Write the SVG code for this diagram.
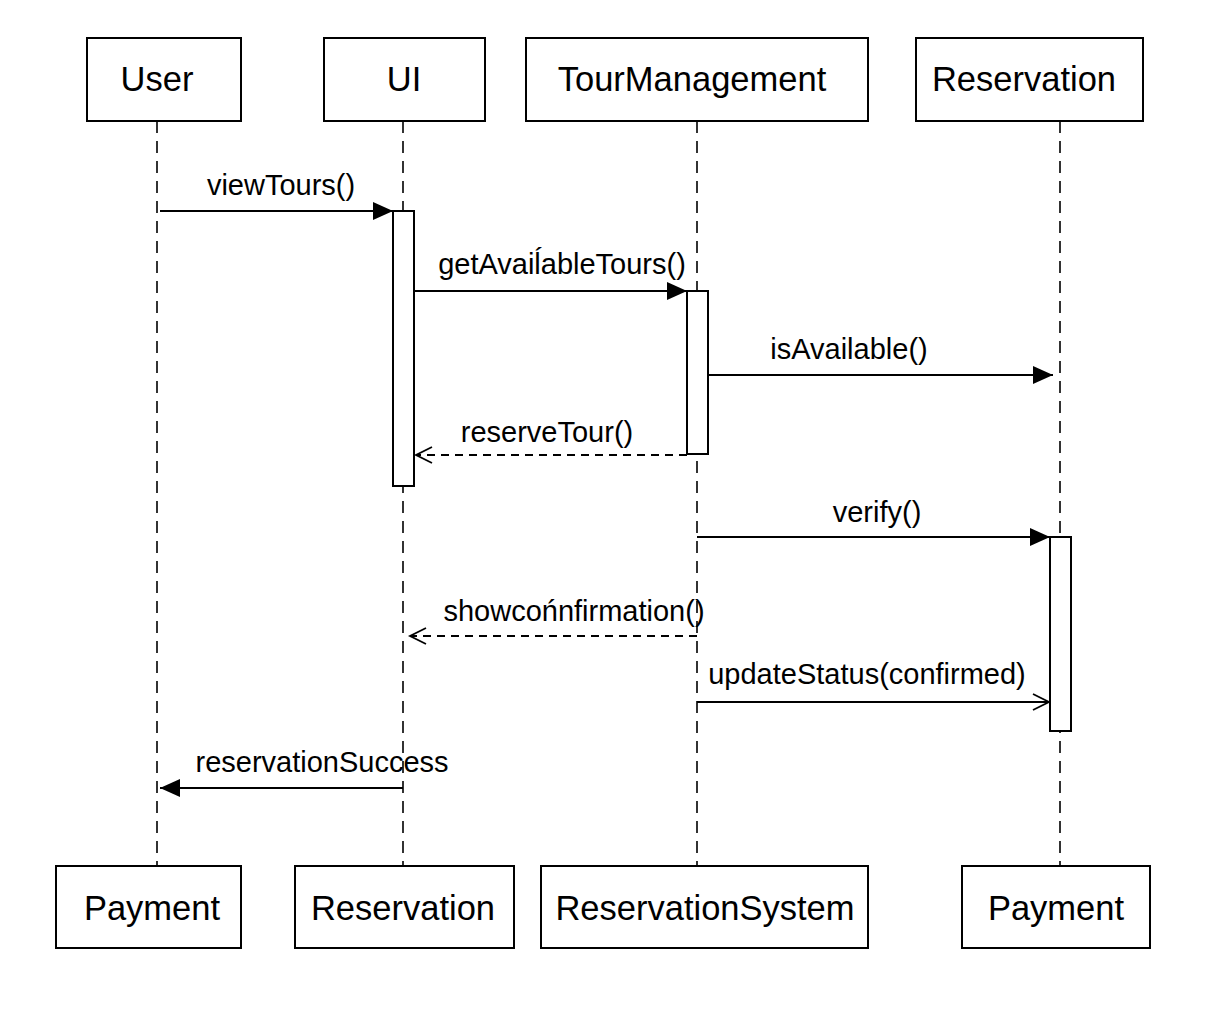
<svg xmlns="http://www.w3.org/2000/svg" width="1229" height="1024" viewBox="0 0 1229 1024">
<defs>
<marker id="filled" markerWidth="22" markerHeight="20" refX="20" refY="9" orient="auto" markerUnits="userSpaceOnUse">
<path d="M0,0 L20,9 L0,18 Z" fill="#000"/>
</marker>
<marker id="open" markerWidth="22" markerHeight="20" refX="18" refY="9" orient="auto" markerUnits="userSpaceOnUse">
<path d="M2,1 L18,9 L2,17" fill="none" stroke="#000" stroke-width="1.8"/>
</marker>
</defs>
<style>
.box{fill:#fff;stroke:#000;stroke-width:2}
.act{fill:#fff;stroke:#000;stroke-width:2}
.life{stroke:#000;stroke-width:1.6;stroke-dasharray:12 8;fill:none}
.lbl{font-family:"Liberation Sans",Arial,sans-serif;font-size:34.5px;fill:#000;text-anchor:middle}
.msg{font-family:"Liberation Sans",Arial,sans-serif;font-size:29px;fill:#000;text-anchor:middle}
.sync{stroke:#000;stroke-width:2;fill:none;marker-end:url(#filled)}
.ret{stroke:#000;stroke-width:1.8;fill:none;stroke-dasharray:8 6;marker-end:url(#open)}
.asyn{stroke:#000;stroke-width:2;fill:none;marker-end:url(#open)}
</style>
<rect width="1229" height="1024" fill="#fff"/>
<g id="lifelines">
<line class="life" x1="157" y1="121" x2="157" y2="866"/>
<line class="life" x1="403" y1="121" x2="403" y2="866"/>
<line class="life" x1="697" y1="121" x2="697" y2="866"/>
<line class="life" x1="1060" y1="121" x2="1060" y2="866"/>
</g>
<g id="node-user"><rect class="box" x="87" y="38" width="154" height="83"/><text class="lbl" x="157" y="91">User</text></g>
<g id="node-ui"><rect class="box" x="324" y="38" width="161" height="83"/><text class="lbl" x="404" y="91">UI</text></g>
<g id="node-tourmanagement"><rect class="box" x="526" y="38" width="342" height="83"/><text class="lbl" x="692" y="91">TourManagement</text></g>
<g id="node-reservation-top"><rect class="box" x="916" y="38" width="227" height="83"/><text class="lbl" x="1024" y="91">Reservation</text></g>
<g id="node-payment-left"><rect class="box" x="56" y="866" width="185" height="82"/><text class="lbl" x="152" y="920">Payment</text></g>
<g id="node-reservation-bottom"><rect class="box" x="295" y="866" width="219" height="82"/><text class="lbl" x="403" y="920">Reservation</text></g>
<g id="node-reservationsystem"><rect class="box" x="541" y="866" width="327" height="82"/><text class="lbl" x="705" y="920">ReservationSystem</text></g>
<g id="node-payment-right"><rect class="box" x="962" y="866" width="188" height="82"/><text class="lbl" x="1056" y="920">Payment</text></g>
<g id="activations">
<rect class="act" x="393" y="211" width="21" height="275"/>
<rect class="act" x="687" y="291" width="21" height="163"/>
<rect class="act" x="1050" y="537" width="21" height="194"/>
</g>
<g id="connectors">
<line class="sync" x1="160" y1="211" x2="393" y2="211"/>
<text class="msg" x="281" y="195">viewTours()</text>
<line class="sync" x1="414" y1="291" x2="687" y2="291"/>
<text class="msg" x="562" y="274">getAvaiĺableTours()</text>
<line class="sync" x1="708" y1="375" x2="1053" y2="375"/>
<text class="msg" x="849" y="359">isAvailable()</text>
<line class="ret" x1="687" y1="455" x2="416" y2="455"/>
<text class="msg" x="547" y="442">reserveTour()</text>
<line class="sync" x1="697" y1="537" x2="1050" y2="537"/>
<text class="msg" x="877" y="522">verify()</text>
<line class="ret" x1="697" y1="636" x2="410" y2="636"/>
<text class="msg" x="574" y="621">showcońnfirmation()</text>
<line class="asyn" x1="697" y1="702" x2="1049" y2="702"/>
<text class="msg" x="867" y="684">updateStatus(confirmed)</text>
<line class="sync" x1="403" y1="788" x2="160" y2="788"/>
<text class="msg" x="322" y="772">reservationSuccess</text>
</g>
</svg>
